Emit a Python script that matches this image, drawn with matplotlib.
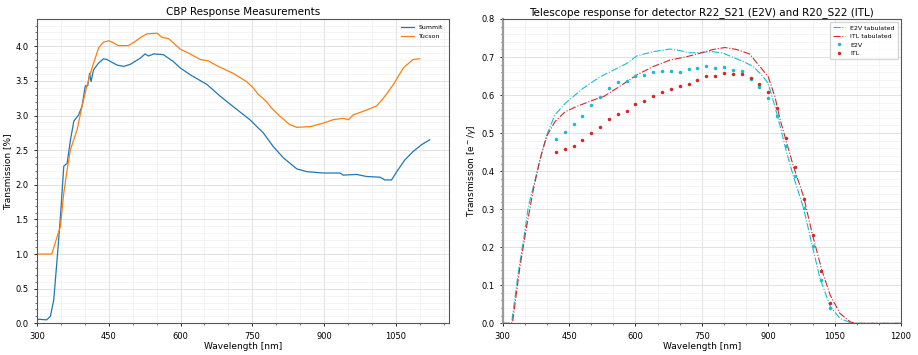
import matplotlib.pyplot as plt
from matplotlib.ticker import MultipleLocator
import numpy as np

# CBP response (left panel)
summit_wl = [300, 320, 328, 335, 342, 349, 356, 363, 370, 377, 387, 394, 401, 406, 410,
             413, 418, 429, 439, 446, 467, 481, 495, 516, 526, 533, 544, 564, 585, 599,
             620, 655, 683, 710, 745, 773, 794, 815, 843, 864, 898, 933, 940, 968, 989,
             1017, 1027, 1041, 1052, 1069, 1086, 1104, 1121]
summit_tr = [0.06, 0.05, 0.10, 0.34, 0.92, 1.54, 2.27, 2.31, 2.65, 2.92, 3.01, 3.13, 3.43, 3.43, 3.61,
             3.49, 3.66, 3.76, 3.82, 3.81, 3.73, 3.71, 3.74, 3.83, 3.89, 3.86, 3.89, 3.88, 3.78, 3.69,
             3.59, 3.45, 3.28, 3.13, 2.94, 2.75, 2.55, 2.39, 2.23, 2.19, 2.17, 2.17, 2.14, 2.15, 2.12,
             2.11, 2.07, 2.07, 2.19, 2.36, 2.48, 2.58, 2.65]

tucson_wl = [300, 331, 338, 349, 356, 363, 370, 384, 394, 404, 415, 429, 439, 450, 460,
             470, 491, 505, 519, 530, 551, 561, 575, 585, 599, 620, 641, 658, 676, 710,
             738, 752, 762, 780, 790, 808, 828, 843, 871, 898, 919, 940, 951, 961, 989,
             1010, 1024, 1045, 1066, 1086, 1100]
tucson_tr = [1.00, 1.00, 1.16, 1.40, 1.88, 2.22, 2.51, 2.80, 3.13, 3.42, 3.69, 3.98, 4.06, 4.08, 4.05,
             4.01, 4.01, 4.07, 4.14, 4.18, 4.19, 4.13, 4.11, 4.05, 3.96, 3.89, 3.81, 3.79, 3.72, 3.61,
             3.49, 3.40, 3.31, 3.20, 3.11, 2.99, 2.87, 2.83, 2.84, 2.89, 2.94, 2.96, 2.94, 3.01, 3.08,
             3.14, 3.25, 3.45, 3.69, 3.81, 3.82]

# telescope response (right panel)
e2v_tab_wl = [300, 320, 335, 347, 358, 373, 388, 401, 418, 441, 482, 520, 558, 580, 603,
              640, 678, 700, 723, 746, 776, 798, 821, 844, 866, 885, 900, 915, 927, 942,
              957, 980, 999, 1017, 1040, 1062, 1085, 1100, 1200]
e2v_tab = [0.0, 0.0, 0.131, 0.219, 0.307, 0.377, 0.447, 0.499, 0.548, 0.578, 0.618, 0.648, 0.670, 0.683, 0.703,
           0.714, 0.721, 0.717, 0.711, 0.712, 0.714, 0.710, 0.699, 0.688, 0.675, 0.653, 0.631, 0.570, 0.517, 0.447,
           0.386, 0.302, 0.206, 0.118, 0.044, 0.013, 0.002, 0.0, 0.0]

itl_tab_wl = [300, 322, 339, 354, 369, 384, 399, 418, 441, 467, 505, 528, 558, 580, 603,
              640, 678, 716, 746, 776, 802, 828, 858, 881, 900, 915, 927, 942, 957, 980,
              999, 1021, 1040, 1062, 1085, 1096, 1200]
itl_tab = [0.0, 0.0, 0.149, 0.254, 0.350, 0.429, 0.491, 0.530, 0.556, 0.570, 0.587, 0.596, 0.618, 0.635, 0.653,
           0.675, 0.692, 0.701, 0.710, 0.720, 0.725, 0.720, 0.708, 0.675, 0.648, 0.596, 0.535, 0.473, 0.412, 0.333,
           0.237, 0.140, 0.074, 0.026, 0.004, 0.0, 0.0]

meas_wl = [420, 440, 460, 480, 500, 520, 540, 560, 580, 600, 620, 640, 660, 680, 700, 720,
           740, 760, 780, 800, 820, 840, 860, 880, 900, 920, 940, 960, 980, 1000, 1020, 1040]
e2v_meas = [0.484, 0.502, 0.523, 0.546, 0.574, 0.596, 0.618, 0.634, 0.636, 0.649, 0.654, 0.660,
            0.662, 0.664, 0.660, 0.668, 0.670, 0.676, 0.671, 0.673, 0.667, 0.662, 0.641, 0.622,
            0.591, 0.545, 0.466, 0.386, 0.302, 0.203, 0.114, 0.039]
itl_meas = [0.451, 0.458, 0.467, 0.481, 0.501, 0.517, 0.536, 0.551, 0.558, 0.576, 0.585, 0.597,
            0.608, 0.615, 0.624, 0.630, 0.639, 0.650, 0.650, 0.658, 0.656, 0.655, 0.645, 0.629,
            0.608, 0.566, 0.488, 0.410, 0.328, 0.233, 0.137, 0.054]

plt.rcParams['font.size'] = 6


def style_axes(ax):
    ax.minorticks_on()
    ax.xaxis.set_minor_locator(MultipleLocator(50))
    ax.grid(True, which='major', color='#dddddd', linewidth=0.6)
    ax.grid(True, which='minor', color='#eeeeee', linewidth=0.4)
    ax.tick_params(which='major', labelsize=6, length=2.5, width=0.6)
    ax.tick_params(which='minor', length=1.5, width=0.4)
    for sp in ax.spines.values():
        sp.set_color('#555555')
        sp.set_linewidth(0.8)


fig = plt.figure(figsize=(9.18, 3.55), dpi=100)
ax1 = fig.add_axes([0.0403, 0.0893, 0.4487, 0.8563])
ax2 = fig.add_axes([0.5476, 0.0893, 0.4339, 0.8572])

# left panel
ax1.plot(summit_wl, summit_tr, color='tab:blue', lw=0.9, label='Summit')
ax1.plot(tucson_wl, tucson_tr, color='tab:orange', lw=0.9, label='Tucson')
ax1.set_xlim(300, 1161)
ax1.set_ylim(0, 4.39)
ax1.set_xticks([300, 450, 600, 750, 900, 1050])
ax1.set_title('CBP Response Measurements', fontsize=7.5, pad=3)
ax1.set_xlabel('Wavelength [nm]', fontsize=6.5, labelpad=1)
ax1.set_ylabel('Transmission [%]', fontsize=6.5, labelpad=2)
ax1.legend(loc='upper right', fontsize=4.5, frameon=False)
style_axes(ax1)

# right panel
ax2.plot(e2v_tab_wl, e2v_tab, color='tab:cyan', lw=0.8, ls='-.', label='E2V tabulated')
ax2.plot(itl_tab_wl, itl_tab, color='tab:red', lw=0.8, ls='-.', label='ITL tabulated')
ax2.plot(meas_wl, e2v_meas, '.', color='tab:cyan', ms=3, label='E2V')
ax2.plot(meas_wl, itl_meas, '.', color='tab:red', ms=3, label='ITL')
ax2.set_xlim(300, 1200)
ax2.set_ylim(0, 0.8)
ax2.set_xticks([300, 450, 600, 750, 900, 1050, 1200])
ax2.set_title('Telescope response for detector R22_S21 (E2V) and R20_S22 (ITL)',
              fontsize=7.5, pad=3)
ax2.set_xlabel('Wavelength [nm]', fontsize=6.5, labelpad=1)
ax2.set_ylabel(r'Transmission [e$^-$/$\gamma$]', fontsize=6.5, labelpad=2)
ax2.legend(loc='upper right', fontsize=4.5, framealpha=0.8, borderpad=0.5)
style_axes(ax2)
ax2.spines['left'].set_linewidth(1.6)
ax2.spines['left'].set_color('#999999')

fig.savefig('out.png', dpi=100)
